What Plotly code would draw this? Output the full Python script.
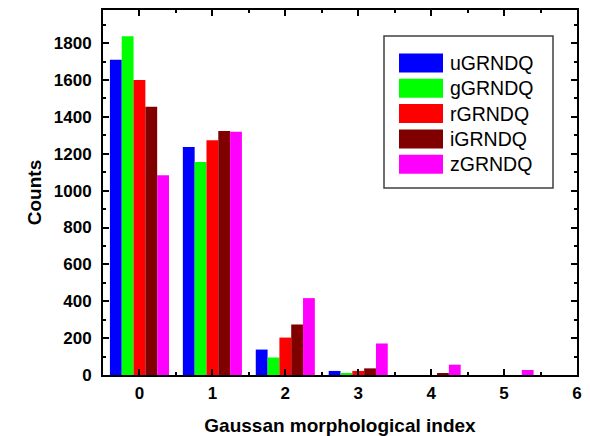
import plotly.graph_objects as go

categories = [0, 1, 2, 3, 4, 5]
series_names = ["uGRNDQ", "gGRNDQ", "rGRNDQ", "iGRNDQ", "zGRNDQ"]
u_vals = [1710, 1237, 138, 22, 0, 0]
g_vals = [1837, 1156, 95, 10, 0, 0]
r_vals = [1600, 1274, 203, 22, 0, 0]
i_vals = [1455, 1323, 274, 36, 7, 0]
z_vals = [1084, 1319, 417, 171, 56, 27]
colors = ["#0000FF", "#00FF00", "#FF0000", "#800000", "#FF00FF"]
x_ticks = [0, 1, 2, 3, 4, 5, 6]
y_ticks = [0, 200, 400, 600, 800, 1000, 1200, 1400, 1600, 1800]

all_vals = [u_vals, g_vals, r_vals, i_vals, z_vals]

fig = go.Figure()
for name, vals, col in zip(series_names, all_vals, colors):
    fig.add_trace(go.Bar(x=categories, y=vals, name=name,
                         marker=dict(color=col, line=dict(width=0)),
                         showlegend=False))

tickfont = dict(family="Liberation Sans, Arial, sans-serif", size=17, color="black")
axfont = dict(family="Liberation Sans, Arial, sans-serif", size=19, color="black")

fig.update_layout(
    width=590, height=436,
    margin=dict(l=103, r=13, t=10, b=61),
    paper_bgcolor="white", plot_bgcolor="white",
    barmode="group", bargap=0.19, bargroupgap=0,
    font=dict(family="Liberation Sans, Arial, sans-serif"),
)
fig.update_xaxes(
    range=[-0.5, 6], tickvals=x_ticks, ticktext=["<b>%d</b>" % t for t in x_ticks],
    tickfont=tickfont, ticks="inside", ticklen=6, tickwidth=1.5, tickcolor="black",
    ticklabelstandoff=2,
    minor=dict(dtick=0.5, ticks="inside", ticklen=3, tickwidth=1.5, tickcolor="black"),
    showline=True, linecolor="black", linewidth=2, mirror="ticks",
    showgrid=False, zeroline=False, automargin=False,
    title=dict(text="<b>Gaussan morphological index</b>", font=axfont, standoff=18),
)
fig.update_yaxes(
    range=[0, 1980], tickvals=y_ticks, ticktext=["<b>%d</b>" % t for t in y_ticks],
    tickfont=tickfont, ticks="inside", ticklen=6, tickwidth=1.5, tickcolor="black",
    ticklabelstandoff=6,
    minor=dict(dtick=100, ticks="inside", ticklen=3, tickwidth=1.5, tickcolor="black"),
    showline=True, linecolor="black", linewidth=2, mirror="ticks",
    showgrid=False, zeroline=False, automargin=False,
    title=dict(text="<b>Counts</b>", font=axfont, standoff=7),
)

# custom legend (paper coordinates derived from pixel layout)
pw = 590 - 103 - 13
ph = 436 - 10 - 61
def px(x):
    return (x - 103) / pw
def py(y):
    return 1 - (y - 10) / ph

fig.add_shape(type="rect", xref="paper", yref="paper",
              x0=px(384), x1=px(553), y0=py(188), y1=py(36),
              line=dict(color="#404040", width=1.5), fillcolor="white", layer="above")
for k, (name, col) in enumerate(zip(series_names, colors)):
    top = 53.5 + k * 25.3
    fig.add_shape(type="rect", xref="paper", yref="paper",
                  x0=px(399), x1=px(443), y0=py(top + 19), y1=py(top),
                  line=dict(width=0), fillcolor=col, layer="above")
    fig.add_annotation(xref="paper", yref="paper", x=px(448), y=py(top + 9.5),
                       text=name, showarrow=False, xanchor="left", yanchor="middle",
                       font=dict(family="Liberation Sans, Arial, sans-serif", size=19.5, color="black"))

fig.write_html("out.html")
